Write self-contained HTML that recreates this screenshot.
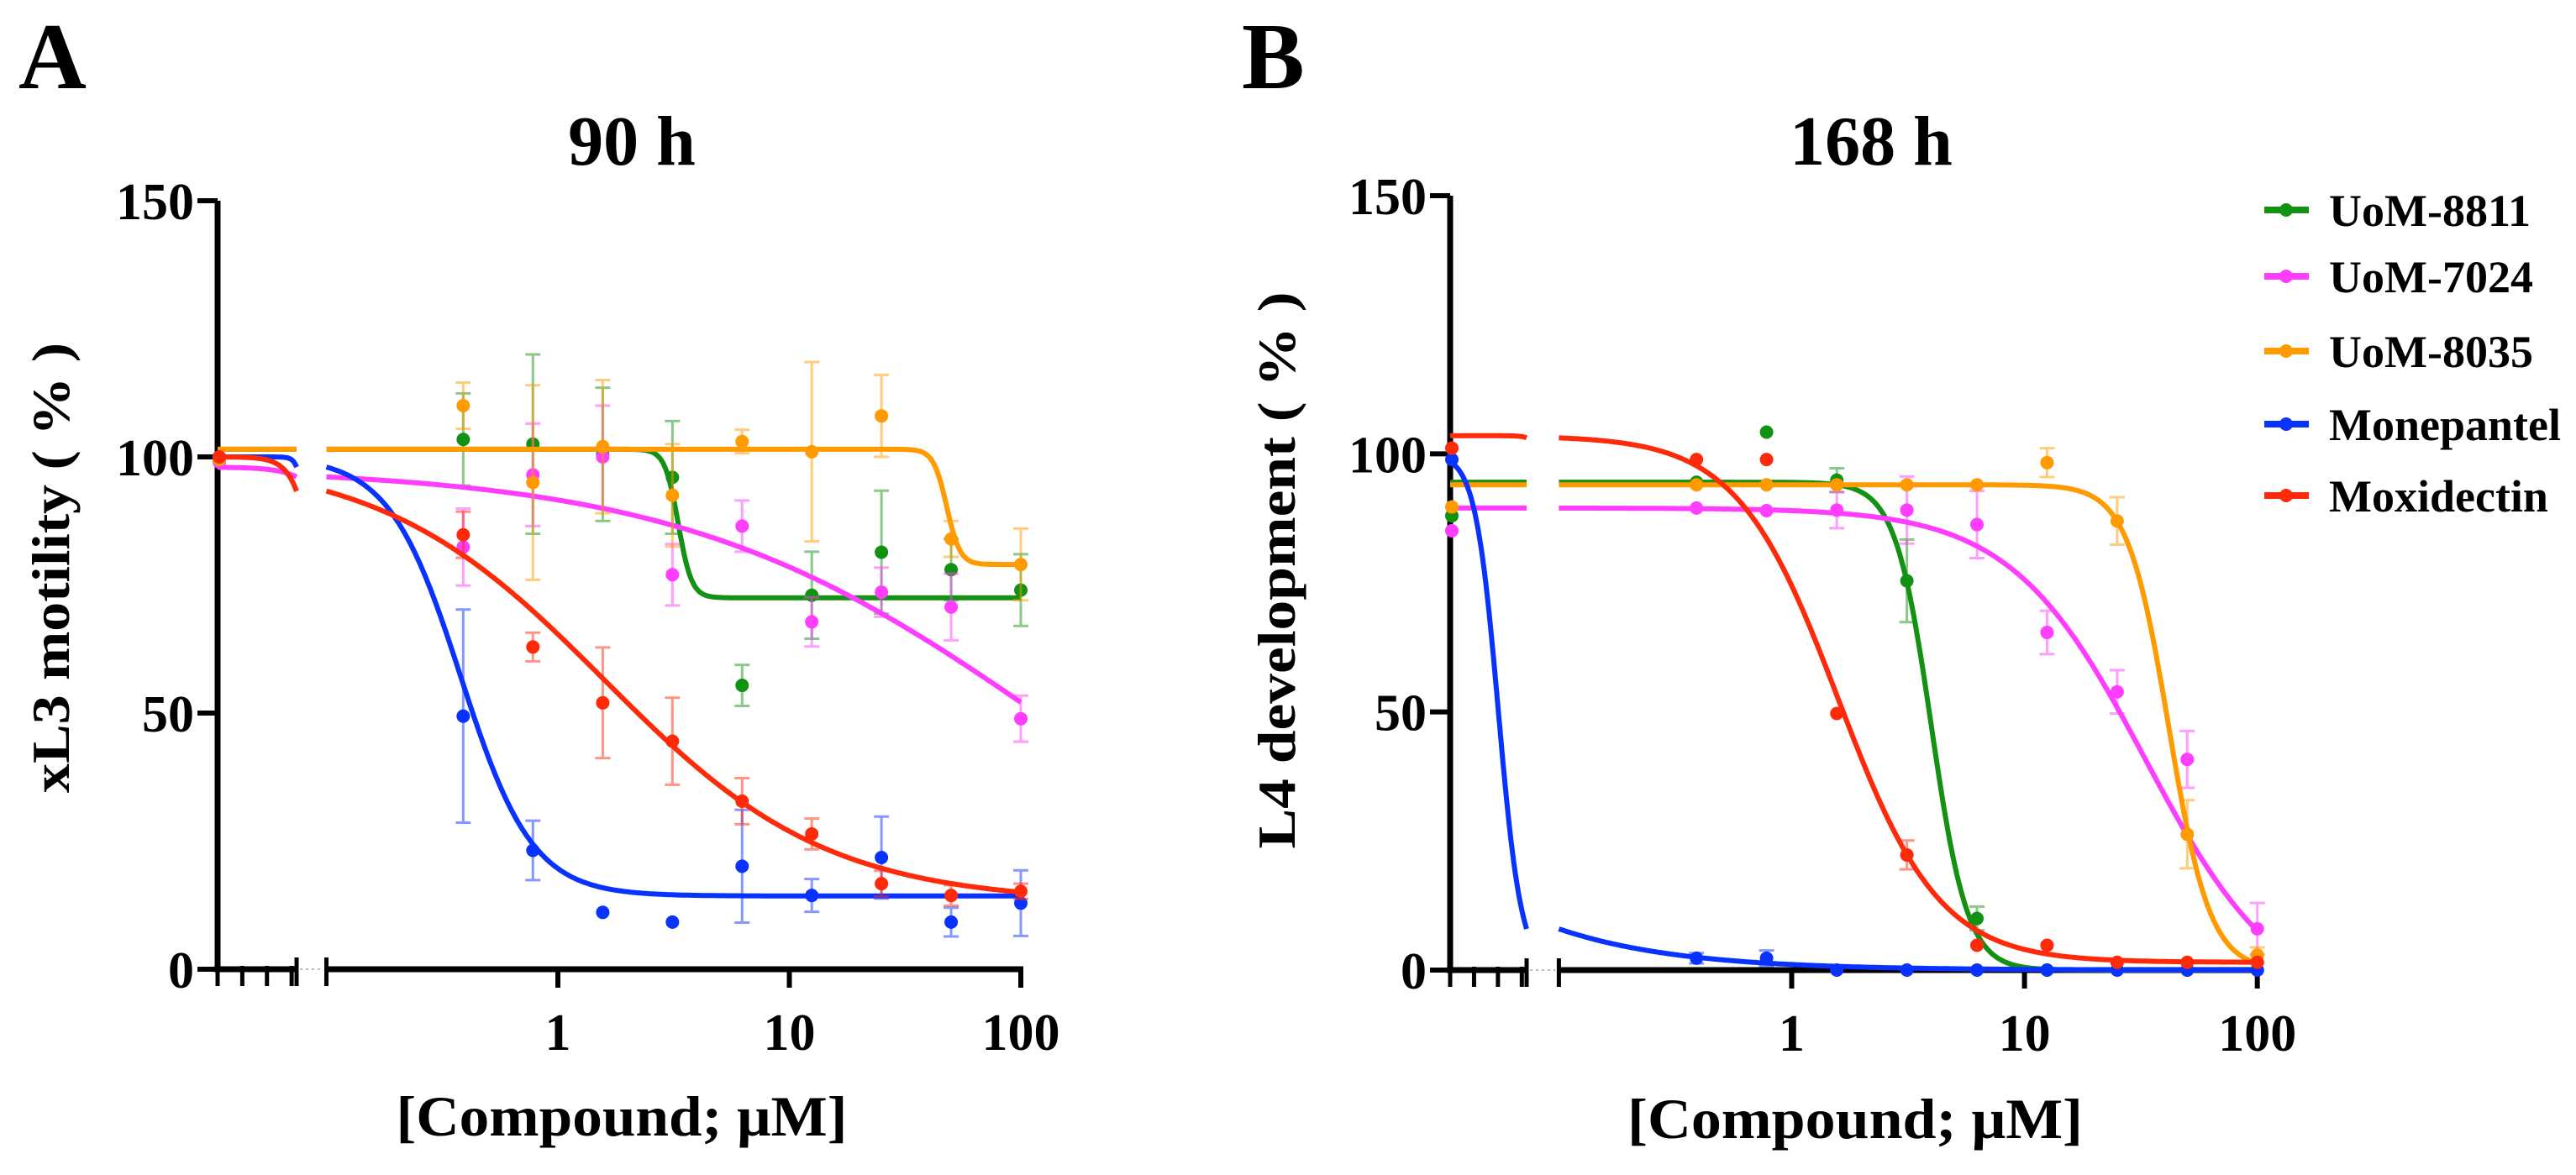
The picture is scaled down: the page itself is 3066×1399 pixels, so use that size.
<!DOCTYPE html>
<html><head><meta charset="utf-8"><style>
html,body{margin:0;padding:0;background:#fff;}
svg{display:block;}
text{font-family:"Liberation Serif",serif;font-weight:bold;fill:#000;}
</style></head><body>
<svg id="chart" width="3066" height="1399" viewBox="0 0 3066 1399" xmlns="http://www.w3.org/2000/svg">
<text x="22" y="105" font-size="112">A</text>
<text x="1478" y="105" font-size="112">B</text>
<text x="752" y="196" font-size="84" text-anchor="middle">90 h</text>
<text x="2227" y="196" font-size="84" text-anchor="middle">168 h</text>
<text transform="translate(82,676) rotate(-90)" font-size="64" text-anchor="middle" textLength="536" lengthAdjust="spacingAndGlyphs">xL3 motility ( % )</text>
<text transform="translate(1541,679) rotate(-90)" font-size="64" text-anchor="middle" textLength="663" lengthAdjust="spacingAndGlyphs">L4 development ( % )</text>
<text x="740" y="1352" font-size="68" text-anchor="middle" textLength="537" lengthAdjust="spacingAndGlyphs">[Compound; μM]</text>
<text x="2208" y="1355" font-size="68" text-anchor="middle" textLength="542" lengthAdjust="spacingAndGlyphs">[Compound; μM]</text>
<g id="legend"></g>
</svg>
<script>
// ---- data ----
const seriesNames = ["UoM-8811","UoM-7024","UoM-8035","Monepantel","Moxidectin"];
const seriesColors = ["#139113","#ff3dff","#ff9a00","#0a32ff","#ff2a0a"];
const concentrations = [0.39,0.78,1.5625,3.125,6.25,12.5,25,50,100];
const yTicks = [0,50,100,150];
const xTickValues = [1,10,100];
const xTickLabels = ["1","10","100"];

// Panel A (90 h) means
const aGreen  = [103.4,102.5,100.5,96,55.4,73,81.4,78,74];
const aPink   = [82.4,96.5,100,77,86.5,67.8,73.6,70.7,48.9];
const aOrange = [110,95,102,92.5,103,101,108,84,79];
const aBlue   = [49.4,23.2,11.1,9.2,20.1,14.4,21.8,9.2,12.9];
const aRed    = [84.8,62.9,52,44.5,32.8,26.4,16.7,14.4,15.2];
// Panel A errors
const aGreenErr  = [9,17.5,13,11,4,8.5,12,6,7];
const aPinkErr   = [7.5,10,10,6,5,4.8,4.8,6.5,4.5];
const aOrangeErr = [4.5,19,13,10,2.3,17.5,8,3.5,7];
const aBlueErr   = [20.8,5.8,0,0,11,3.2,8,2.8,6.4];
const aRedErr    = [4.5,2.8,10.8,8.5,4.5,3,2.5,2,1.5];
const aControl   = [100,99,99.5,100,100];
// Panel A fitted curve parameters (top, bottom, logEC50, hill)
const aTop    = [101.5,98,101.5,100,100];
const aBottom = [72.5,0,79,14.3,13];
const aLogEC50= [0.52,2.1,1.68,-0.42,0.2];
const aHill   = [15,0.55,15,2.8,0.9];

// Panel B (168 h) means
const bGreen  = [94.5,104.2,94.9,75.4,10,0,0,0,0];
const bPink   = [89.5,89,89.1,89.1,86.3,65.4,53.9,40.8,8];
const bOrange = [94,94,94,94,94,98.3,87,26.3,2.9];
const bBlue   = [2.3,2.3,0,0,0,0,0,0,0];
const bRed    = [98.9,98.9,49.7,22.3,4.8,4.8,1.5,1.5,1.5];
const bGreenErr  = [0,0,2.3,8,2.3,0,0,0,0];
const bPinkErr   = [0,0,3.5,6.5,6.5,4.2,4.2,5.5,5];
const bOrangeErr = [0,0,0,0,0,2.8,4.6,6.6,1.5];
const bBlueErr   = [1,1.5,0,0,0,0,0,0,0];
const bRedErr    = [0,0,0,2.8,0,0,0,0,0];
const bControl   = [88,85.1,89.7,98.9,101.1];
const bTop    = [94.5,89.5,94,100,103.5];
const bBottom = [0,-8,0,0,1.5];
const bLogEC50= [0.6,1.52,1.62,-2.18,0.2];
const bHill   = [5.6,1.5,4.9,0.9,2.0];

// ---- drawing ----
const NS = "http://www.w3.org/2000/svg";
const svg = document.getElementById("chart");
function mk(tag, attrs, parent){
  const e = document.createElementNS(NS, tag);
  for (const k in attrs) e.setAttribute(k, attrs[k]);
  (parent||svg).appendChild(e);
  return e;
}
const LEFT_LOG_MIN = -4.2, SPLIT_LOG = -1.0, MAX_LOG = 2.0;

function drawPanel(p){
  const g = mk("g", {});
  
  
  const yScale = v => p.y0 + (p.y150 - p.y0) * v / 150;
  const decade = (p.x100 - p.x1) / 2;
  const xRight = lg => p.x1 + lg * decade;
  const xLeft = lg => p.ax + (p.segEnd - p.ax) * (lg - LEFT_LOG_MIN) / (SPLIT_LOG - LEFT_LOG_MIN);
  const segStart = xRight(SPLIT_LOG);

  // axes
  const yAxis = mk("line", {x1:p.ax, y1:yScale(150), x2:p.ax, y2:p.y0+2, stroke:"#000","stroke-width":7}, g);
  
  
  yTicks.forEach(t => {
    const y = yScale(t);
    const tk = mk("line", {x1:p.ax-24, y1:y, x2:p.ax, y2:y, stroke:"#000","stroke-width":6}, g);
    
    
    const lb = mk("text", {x:p.ax-28, y:y+22, "font-size":62, "text-anchor":"end"}, g);
    lb.textContent = String(t);
    
    
  });
  const xl = mk("line", {x1:p.ax-4, y1:p.y0, x2:p.segEnd, y2:p.y0, stroke:"#000","stroke-width":7}, g);
  
  
  const xr = mk("line", {x1:segStart, y1:p.y0, x2:p.x100+3, y2:p.y0, stroke:"#000","stroke-width":7}, g);
  
  
  const gap = mk("line", {x1:p.segEnd+4, y1:p.y0, x2:segStart-4, y2:p.y0, stroke:"#bbb","stroke-width":2,"stroke-dasharray":"3 4"}, g);
  
  
  for (let i=0;i<4;i++){
    const x = p.ax + (p.segEnd - p.ax) * i / 3.2;
    const mt = mk("line", {x1:x, y1:p.y0-4, x2:x, y2:p.y0+20, stroke:"#000","stroke-width":5}, g);
    
    
  }
  [p.segEnd, segStart].forEach(x => {
    const bt = mk("line", {x1:x, y1:p.y0-14, x2:x, y2:p.y0+20, stroke:"#000","stroke-width":5}, g);
    
    
  });
  xTickValues.forEach((v,i) => {
    const x = xRight(Math.log10(v));
    const tk = mk("line", {x1:x, y1:p.y0, x2:x, y2:p.y0+22, stroke:"#000","stroke-width":6}, g);
    
    
    const lb = mk("text", {x:x, y:p.y0+96, "font-size":62, "text-anchor":"middle"}, g);
    lb.textContent = xTickLabels[i];
    
    
  });

  p.series.forEach((s, si) => {
    const col = seriesColors[si];
    const sg = mk("g", {}, g);
    
    
    // error bars & points
    concentrations.forEach((c, i) => {
      const x = xRight(Math.log10(c));
      const v = s.vals[i], e = s.errs[i];
      if (e > 0){
        const eb = mk("path", {d:`M${x},${yScale(v+e)}V${yScale(v-e)}M${x-9},${yScale(v+e)}H${x+9}M${x-9},${yScale(v-e)}H${x+9}`, stroke:col, "stroke-width":3, "stroke-opacity":0.5, fill:"none"}, sg);
        
        
      }
      const pt = mk("circle", {cx:x, cy:yScale(v), r:8, fill:col}, sg);
      
      
    });
    const cp = mk("circle", {cx:p.ax+2, cy:yScale(s.ctrl), r:8, fill:col}, sg);
    
    
    // fitted curve
    const f = lg => s.bottom + (s.top - s.bottom) / (1 + Math.pow(10, s.hill * (lg - s.ec)));
    let dL = "", dR = "";
    for (let k=0;k<=120;k++){
      const lg = LEFT_LOG_MIN + (SPLIT_LOG - LEFT_LOG_MIN) * k / 120;
      dL += (k?"L":"M") + xLeft(lg).toFixed(1) + "," + yScale(f(lg)).toFixed(1);
    }
    for (let k=0;k<=400;k++){
      const lg = SPLIT_LOG + (MAX_LOG - SPLIT_LOG) * k / 400;
      dR += (k?"L":"M") + xRight(lg).toFixed(1) + "," + yScale(f(lg)).toFixed(1);
    }
    [dL, dR].forEach(d => {
      const cv = mk("path", {d:d, stroke:col, "stroke-width":6, fill:"none", "stroke-linejoin":"round"}, sg);
      
      
    });
  });
}

drawPanel({key:"panel-a", ax:259, y0:1154, y150:239, segEnd:353, x1:664, x100:1215,
  series:[
    {vals:aGreen, errs:aGreenErr, ctrl:aControl[0], top:aTop[0], bottom:aBottom[0], ec:aLogEC50[0], hill:aHill[0]},
    {vals:aPink, errs:aPinkErr, ctrl:aControl[1], top:aTop[1], bottom:aBottom[1], ec:aLogEC50[1], hill:aHill[1]},
    {vals:aOrange, errs:aOrangeErr, ctrl:aControl[2], top:aTop[2], bottom:aBottom[2], ec:aLogEC50[2], hill:aHill[2]},
    {vals:aBlue, errs:aBlueErr, ctrl:aControl[3], top:aTop[3], bottom:aBottom[3], ec:aLogEC50[3], hill:aHill[3]},
    {vals:aRed, errs:aRedErr, ctrl:aControl[4], top:aTop[4], bottom:aBottom[4], ec:aLogEC50[4], hill:aHill[4]}
  ]});
drawPanel({key:"panel-b", ax:1726, y0:1155, y150:233, segEnd:1817, x1:2132.5, x100:2686.7,
  series:[
    {vals:bGreen, errs:bGreenErr, ctrl:bControl[0], top:bTop[0], bottom:bBottom[0], ec:bLogEC50[0], hill:bHill[0]},
    {vals:bPink, errs:bPinkErr, ctrl:bControl[1], top:bTop[1], bottom:bBottom[1], ec:bLogEC50[1], hill:bHill[1]},
    {vals:bOrange, errs:bOrangeErr, ctrl:bControl[2], top:bTop[2], bottom:bBottom[2], ec:bLogEC50[2], hill:bHill[2]},
    {vals:bBlue, errs:bBlueErr, ctrl:bControl[3], top:bTop[3], bottom:bBottom[3], ec:bLogEC50[3], hill:bHill[3]},
    {vals:bRed, errs:bRedErr, ctrl:bControl[4], top:bTop[4], bottom:bBottom[4], ec:bLogEC50[4], hill:bHill[4]}
  ]});

// legend
const legend = document.getElementById("legend");
const legendY = [250,329,418,505,590];
seriesNames.forEach((n,i) => {
  const eg = mk("g", {}, legend);
  
  
  const ln = mk("line", {x1:2695, y1:legendY[i], x2:2748, y2:legendY[i], stroke:seriesColors[i], "stroke-width":8}, eg);
  
  
  const dt = mk("circle", {cx:2721, cy:legendY[i], r:8, fill:seriesColors[i]}, eg);
  
  
  const t = mk("text", {x:2772, y:legendY[i]+19, "font-size":54}, eg);
  t.textContent = n;
  
  
});
</script>
</body></html>
